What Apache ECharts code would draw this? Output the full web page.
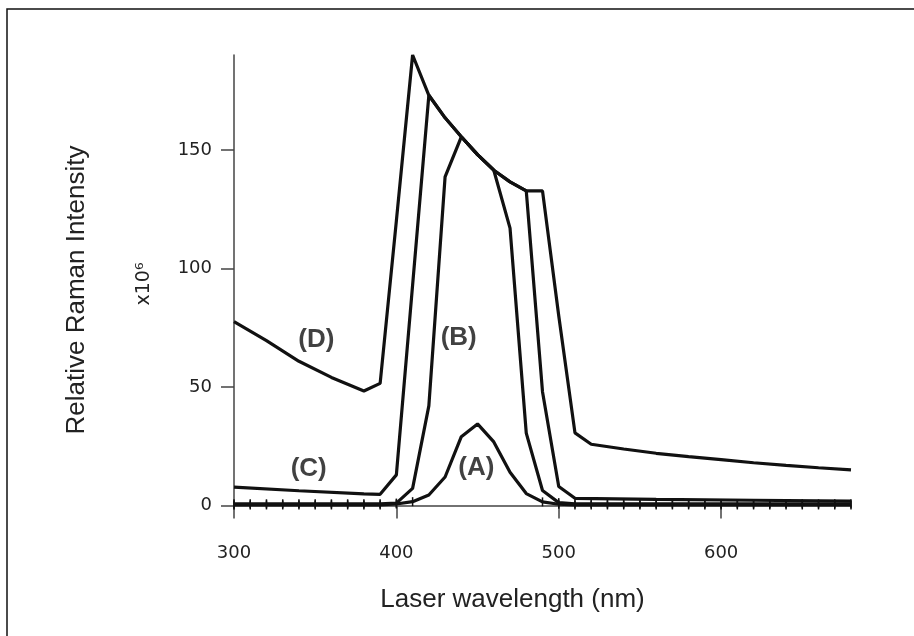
<!DOCTYPE html>
<html>
<head>
<meta charset="utf-8">
<script src="https://cdn.jsdelivr.net/npm/echarts@6/dist/echarts.min.js"></script>
<style>
  html, body { margin: 0; padding: 0; background: #fff; }
  #chart { width: 914px; height: 636px; }
</style>
</head>
<body>
<div id="chart"></div>
<script>
// wavelength grid (nm) for curves A and B
const wl = [300, 310, 320, 330, 340, 350, 360, 370, 380, 390,
            400, 410, 420, 430, 440, 450, 460, 470, 480, 490, 500,
            510, 520, 530, 540, 550, 560, 570, 580, 590, 600,
            610, 620, 630, 640, 650, 660, 670, 680]

const curveA = [0.2, 0.2, 0.2, 0.2, 0.2, 0.2, 0.2, 0.2, 0.2, 0.2,
                0.6, 1.6, 4.4, 12, 29, 34.4, 26.8, 14, 5, 1.5, 0.5,
                0.2, 0.2, 0.2, 0.2, 0.2, 0.2, 0.2, 0.2, 0.2, 0.2,
                0.2, 0.2, 0.2, 0.2, 0.2, 0.2, 0.2, 0.2]

const curveB = [0.7, 0.7, 0.7, 0.7, 0.7, 0.7, 0.7, 0.7, 0.7, 0.7,
                1.0, 7.2, 42, 138.6, 155.5, 148, 141.4, 117, 30.5, 6.3, 1.2,
                0.7, 0.7, 0.7, 0.7, 0.7, 0.7, 0.7, 0.7, 0.7, 0.7,
                0.7, 0.7, 0.7, 0.7, 0.7, 0.7, 0.7, 0.7]

// curves C and D have their own sample points
const wlC = [300, 340, 380, 390, 400, 420, 430, 440, 450, 460, 470, 480, 490, 500, 510, 560, 620, 680]
const curveC = [7.7, 6.2, 4.9, 4.7, 12.9, 173, 163.5, 155.5, 148, 141.4, 136.5, 132.7, 48, 8, 3.0, 2.6, 2.2, 1.8]

const wlD = [300, 320, 340, 360, 380, 390, 400, 410, 420, 430, 440, 450, 460, 470, 480, 490, 500, 510,
             520, 540, 560, 580, 600, 620, 640, 660, 680]
const curveD = [77.5, 69.5, 60.8, 54.0, 48.3, 51.5, 120, 190, 173, 163.5, 155.5, 148, 141.4, 136.5, 132.7, 132.7, 80, 30.6,
                25.8, 23.8, 22.0, 20.6, 19.3, 18.0, 16.9, 15.9, 15.0]

// curve labels
const labelText = ['(A)', '(B)', '(C)', '(D)']
const labelX = [449.3, 438.4, 346, 350.7]
const labelY = [16, 70.8, 15.4, 69.8]

const xTicks = [300, 400, 500, 600]
const yTicks = [0, 50, 100, 150]

const zip = (xs, ys) => xs.map((x, i) => [x, ys[i]])

const chart = echarts.init(document.getElementById('chart'))

const lineStyle = { color: '#111', width: 3.2 }
// small tick markers only show along the flat baseline
const baselineMark = v => (v[1] < 2 ? [1.5, 9] : 0)

chart.setOption({
  backgroundColor: '#fff',
  animation: false,
  grid: { left: 234, right: 63, top: 55, bottom: 127 },
  xAxis: {
    type: 'value',
    min: 300,
    max: 680,
    name: 'Laser wavelength (nm)',
    nameLocation: 'middle',
    nameGap: 78,
    nameTextStyle: { fontFamily: 'Liberation Sans', fontSize: 26, color: '#222', padding: [0, 60, 0, 0] },
    axisLine: { lineStyle: { color: '#444', width: 1.5 } },
    axisTick: { customValues: xTicks, length: 13, lineStyle: { color: '#444', width: 1.5 } },
    axisLabel: { customValues: xTicks, margin: 35, fontFamily: 'DejaVu Sans', fontSize: 18, color: '#222' },
    splitLine: { show: false }
  },
  yAxis: {
    type: 'value',
    min: -1.5,
    max: 190,
    name: 'Relative Raman Intensity',
    nameLocation: 'middle',
    nameRotate: 90,
    nameGap: 144,
    nameTextStyle: { fontFamily: 'Liberation Sans', fontSize: 26, color: '#222', padding: [0, 16, 0, 0] },
    axisLine: { show: true, lineStyle: { color: '#444', width: 1.5 } },
    axisTick: { show: true, customValues: yTicks, length: 13, lineStyle: { color: '#444', width: 1.5 } },
    axisLabel: { customValues: yTicks, margin: 22, fontFamily: 'DejaVu Sans', fontSize: 18, color: '#222' },
    splitLine: { show: false }
  },
  graphic: [
    {
      // frame at the top and left of the figure
      type: 'rect',
      shape: { x: 7, y: 9, width: 940, height: 660 },
      style: { fill: null, stroke: '#111', lineWidth: 1.5 },
      silent: true
    },
    {
      type: 'text',
      x: 144,
      y: 284,
      rotation: Math.PI / 2,
      style: {
        text: 'x10⁶',
        font: '19px "DejaVu Sans"',
        fill: '#222',
        align: 'center',
        verticalAlign: 'middle'
      }
    }
  ],
  series: [
    {
      name: 'A',
      type: 'line',
      data: zip(wl, curveA),
      symbol: 'rect',
      symbolSize: baselineMark,
      itemStyle: { color: '#111' },
      lineStyle
    },
    {
      name: 'B',
      type: 'line',
      data: zip(wl, curveB),
      symbol: 'rect',
      symbolSize: baselineMark,
      itemStyle: { color: '#111' },
      lineStyle
    },
    {
      name: 'C',
      type: 'line',
      data: zip(wlC, curveC),
      showSymbol: false,
      lineStyle
    },
    {
      name: 'D',
      type: 'line',
      data: zip(wlD, curveD),
      showSymbol: false,
      lineStyle
    },
    {
      name: 'labels',
      type: 'scatter',
      symbolSize: 0,
      data: labelText.map((t, i) => [labelX[i], labelY[i], t]),
      label: {
        show: true,
        position: 'inside',
        formatter: p => p.value[2],
        fontFamily: 'Liberation Sans',
        fontWeight: 'bold',
        fontSize: 26,
        color: '#111'
      }
    }
  ]
})
</script>
</body>
</html>
